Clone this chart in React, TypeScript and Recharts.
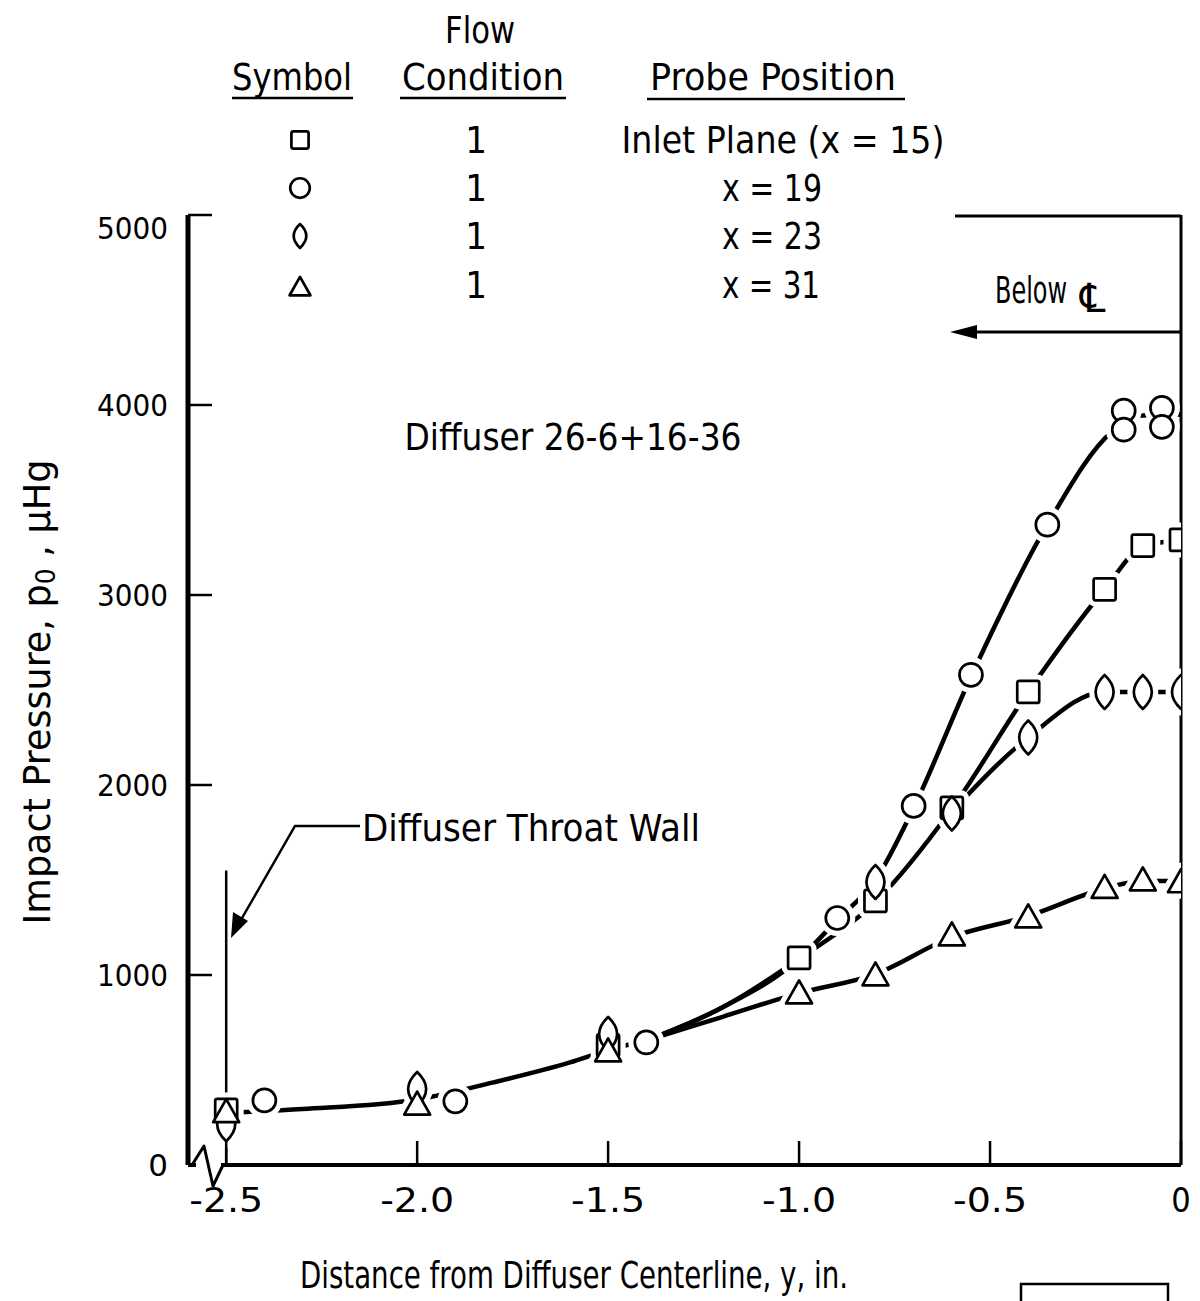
import React from "react";
import { ComposedChart, Line, Scatter, XAxis, YAxis, ReferenceLine } from "recharts";

const FONT = '"DejaVu Sans Condensed", "Liberation Sans Narrow", "DejaVu Sans", sans-serif';
const TICK_FONT = '"DejaVu Sans", "Liberation Sans", sans-serif';

// distance from centerline y (in.) and impact pressure p0 (micron Hg)
const inletY = [-2.5, -1.5, -1.0, -0.8, -0.6, -0.4, -0.2, -0.1, 0];
const inletP = [290, 630, 1090, 1390, 1880, 2490, 3030, 3260, 3290];

const x19Y = [-2.4, -1.9, -1.4, -0.9, -0.7, -0.55, -0.35, -0.15, -0.15, -0.05, -0.05];
const x19P = [340, 335, 645, 1300, 1890, 2580, 3370, 3970, 3870, 3985, 3885];

const x23Y = [-2.5, -2.0, -1.5, -0.8, -0.6, -0.4, -0.2, -0.1, 0];
const x23P = [215, 400, 690, 1490, 1850, 2250, 2490, 2490, 2490];

const x31Y = [-2.5, -2.0, -1.5, -1.0, -0.8, -0.6, -0.4, -0.2, -0.1, 0];
const x31P = [280, 320, 600, 905, 1000, 1210, 1305, 1460, 1500, 1490];

// faired curves as drawn on the figure
const fairLowY = [-2.5, -2.3, -2.0, -1.8, -1.6, -1.5, -1.4];
const fairLowP = [275, 295, 345, 435, 540, 605, 655];
const fairCircY = [-1.4, -1.2, -1.0, -0.9, -0.8, -0.7, -0.55, -0.35, -0.18, -0.1, 0];
const fairCircP = [655, 830, 1085, 1290, 1500, 1880, 2570, 3370, 3860, 3945, 3950];
const fairSqY = [-1.4, -1.2, -1.0, -0.8, -0.6, -0.4, -0.2, -0.1, 0];
const fairSqP = [655, 830, 1085, 1385, 1875, 2490, 3030, 3255, 3290];
const fairLensY = [-0.6, -0.4, -0.2, -0.1, 0];
const fairLensP = [1860, 2250, 2490, 2490, 2490];
const fairTriY = [-1.4, -1.2, -1.0, -0.8, -0.6, -0.4, -0.2, -0.1, 0];
const fairTriP = [655, 780, 905, 1005, 1200, 1310, 1455, 1495, 1495];

const xTicks = [-2.5, -2.0, -1.5, -1.0, -0.5, 0];
const xTickLabels = ["-2.5", "-2.0", "-1.5", "-1.0", "-0.5", "0"];
const yTicks = [0, 1000, 2000, 3000, 4000, 5000];

const pts = (ys: number[], ps: number[]) => ys.map((pos, i) => ({ pos, p: ps[i] }));

type Kind = "square" | "circle" | "lens" | "triangle";

function Marker({ kind, cx, cy, s = 1, halo = false }: { kind: Kind; cx: number; cy: number; s?: number; halo?: boolean }) {
  const common = {
    fill: "#fff",
    stroke: halo ? "#fff" : "#000",
    strokeWidth: halo ? 13 : 2.7,
    strokeLinejoin: "round" as const,
  };
  if (kind === "square") {
    const w = 22 * s;
    return <rect x={cx - w / 2} y={cy - w / 2} width={w} height={w} rx={2} {...common} />;
  }
  if (kind === "circle") {
    return <circle cx={cx} cy={cy} r={11.5 * s} {...common} />;
  }
  if (kind === "lens") {
    const w = 18 * s;
    const h = 34 * s;
    const d = `M${cx},${cy - h / 2} Q${cx + w},${cy} ${cx},${cy + h / 2} Q${cx - w},${cy} ${cx},${cy - h / 2} Z`;
    return <path d={d} {...common} />;
  }
  const w = 26 * s;
  const h = 23 * s;
  const d = `M${cx},${cy - h * 0.55} L${cx + w / 2},${cy + h * 0.45} L${cx - w / 2},${cy + h * 0.45} Z`;
  return <path d={d} {...common} />;
}

const shapeFor = (kind: Kind, halo: boolean) => (props: any) =>
  <Marker kind={kind} cx={props.cx} cy={props.cy} halo={halo} />;

function XTick(props: any) {
  const { x, y, payload } = props;
  const i = xTicks.indexOf(payload.value);
  const label = xTickLabels[i] ?? String(payload.value);
  return (
    <g>
      <line x1={x} x2={x} y1={y} y2={y - 24} stroke="#000" strokeWidth={2.5} />
      <text
        x={x}
        y={y + 47}
        textAnchor="middle"
        fontFamily={FONT}
        fontSize={34}
        fill="#000"
        textLength={label.length > 1 ? 74 : undefined}
        lengthAdjust="spacingAndGlyphs"
      >
        {label}
      </text>
    </g>
  );
}

function YTick(props: any) {
  const { x, y, payload } = props;
  const label = String(payload.value);
  return (
    <g>
      <line x1={x} x2={x + 24} y1={y} y2={y} stroke="#000" strokeWidth={2.5} />
      <text
        x={x - 20}
        y={payload.value === 5000 ? y + 24 : y + 11}
        textAnchor="end"
        fontFamily={TICK_FONT}
        fontSize={31}
        fill="#000"
        textLength={label.length > 1 ? 71 : undefined}
        lengthAdjust="spacingAndGlyphs"
      >
        {label}
      </text>
    </g>
  );
}

const T = (p: { x: number; y: number; w?: number; size?: number; anchor?: "start" | "middle" | "end"; children: React.ReactNode }) => (
  <text
    x={p.x}
    y={p.y}
    textAnchor={p.anchor ?? "start"}
    dominantBaseline="central"
    fontFamily={FONT}
    fontSize={p.size ?? 38}
    fill="#000"
    textLength={p.w}
    lengthAdjust="spacingAndGlyphs"
  >
    {p.children}
  </text>
);

function Overlay() {
  return (
    <svg width={1200} height={1301} style={{ position: "absolute", left: 0, top: 0, pointerEvents: "none" }}>
      {/* legend table */}
      <T x={480} y={30} w={70} anchor="middle">Flow</T>
      <T x={292} y={77} w={120} anchor="middle">Symbol</T>
      <T x={483} y={77} w={162} anchor="middle">Condition</T>
      <T x={773} y={77} w={246} anchor="middle">Probe Position</T>
      <line x1={232} x2={353} y1={98} y2={98} stroke="#000" strokeWidth={2.5} />
      <line x1={400} x2={566} y1={98} y2={98} stroke="#000" strokeWidth={2.5} />
      <line x1={647} x2={905} y1={99} y2={99} stroke="#000" strokeWidth={2.5} />

      <Marker kind="square" cx={300} cy={140} s={0.78} />
      <Marker kind="circle" cx={300} cy={188} s={0.85} />
      <Marker kind="lens" cx={300} cy={236} s={0.7} />
      <Marker kind="triangle" cx={300} cy={287} s={0.8} />
      {[140, 188, 236, 285].map((yy) => (
        <T key={yy} x={476} y={yy} anchor="middle">1</T>
      ))}
      <T x={783} y={140} w={323} anchor="middle">Inlet Plane (x = 15)</T>
      <T x={772} y={188} w={100} anchor="middle">x = 19</T>
      <T x={772} y={236} w={100} anchor="middle">x = 23</T>
      <T x={771} y={285} w={98} anchor="middle">x = 31</T>

      {/* below centerline bracket */}
      <line x1={955} x2={1181} y1={216} y2={216} stroke="#000" strokeWidth={3} />
      <line x1={1181} x2={968} y1={332} y2={332} stroke="#000" strokeWidth={3} />
      <polygon points="950,332 977,325 977,339" fill="#000" />
      <text x={995} y={290} dominantBaseline="central" fontFamily={FONT} fontSize={38} fill="#000">
        <tspan textLength={72} lengthAdjust="spacingAndGlyphs">Below</tspan>
        <tspan x={1080} y={298} fontFamily={TICK_FONT} fontSize={40}>℄</tspan>
      </text>

      <T x={573} y={437} w={337} anchor="middle">Diffuser 26-6+16-36</T>

      {/* throat wall label */}
      <T x={362} y={828} w={338}>Diffuser Throat Wall</T>
      <polyline points="360,826 295,826 238,925" fill="none" stroke="#000" strokeWidth={2.5} />
      <polygon points="231,938 233,912 248,921" fill="#000" />

      {/* axis break */}
      <rect x={196} y={1161} width={25} height={10} fill="#fff" />
      <polyline points="192,1165 204,1146 213,1186 223,1165" fill="none" stroke="#000" strokeWidth={3} strokeLinejoin="round" />

      {/* axis titles */}
      <T x={574} y={1275} w={548} anchor="middle">Distance from Diffuser Centerline, y, in.</T>
      <text
        transform="translate(37,692) rotate(-90)"
        textAnchor="middle"
        dominantBaseline="central"
        fontFamily={FONT}
        fontSize={38}
        fill="#000"
        textLength={465}
        lengthAdjust="spacingAndGlyphs"
      >
        Impact Pressure, p<tspan fontSize={26} dy={9}>0</tspan><tspan dy={-9}> ,  µHg</tspan>
      </text>

      <polyline points="1021,1301 1021,1284 1168,1284 1168,1301" fill="none" stroke="#000" strokeWidth={2.5} />
    </svg>
  );
}

export default function App() {
  const lineProps = {
    dataKey: "p",
    type: "monotone" as const,
    dot: false,
    stroke: "#000",
    strokeWidth: 4.5,
    strokeLinecap: "round" as const,
    isAnimationActive: false,
  };
  const series: [Kind, { pos: number; p: number }[]][] = [
    ["square", pts(inletY, inletP)],
    ["circle", pts(x19Y, x19P)],
    ["lens", pts(x23Y, x23P)],
    ["triangle", pts(x31Y, x31P)],
  ];
  return (
    <div style={{ position: "absolute", left: 0, top: 0, width: 1200, height: 1301, background: "#fff" }}>
      <ComposedChart width={1200} height={1301} margin={{ top: 215, right: 19, bottom: 0, left: 0 }}>
        <XAxis
          type="number"
          dataKey="pos"
          domain={[-2.6, 0]}
          ticks={xTicks}
          allowDataOverflow
          height={136}
          tickSize={0}
          tickMargin={0}
          tickLine={false}
          tick={<XTick />}
          axisLine={{ stroke: "#000", strokeWidth: 4 }}
        />
        <YAxis
          type="number"
          dataKey="p"
          domain={[0, 5000]}
          ticks={yTicks}
          allowDataOverflow
          width={188}
          tickSize={0}
          tickMargin={0}
          tickLine={false}
          tick={<YTick />}
          axisLine={{ stroke: "#000", strokeWidth: 5 }}
        />
        <ReferenceLine x={0} stroke="#000" strokeWidth={3} />
        <ReferenceLine segment={[{ x: -2.5, y: 0 }, { x: -2.5, y: 1550 }]} stroke="#000" strokeWidth={2.5} />

        <Line data={pts(fairLowY, fairLowP)} {...lineProps} />
        <Line data={pts(fairCircY, fairCircP)} {...lineProps} />
        <Line data={pts(fairSqY, fairSqP)} {...lineProps} />
        <Line data={pts(fairLensY, fairLensP)} {...lineProps} />
        <Line data={pts(fairTriY, fairTriP)} {...lineProps} />

        {series.map(([kind, data]) => (
          <Scatter key={"h" + kind} data={data} dataKey="p" shape={shapeFor(kind, true)} isAnimationActive={false} />
        ))}
        {series.map(([kind, data]) => (
          <Scatter key={"m" + kind} data={data} dataKey="p" shape={shapeFor(kind, false)} isAnimationActive={false} />
        ))}
      </ComposedChart>
      <Overlay />
    </div>
  );
}
